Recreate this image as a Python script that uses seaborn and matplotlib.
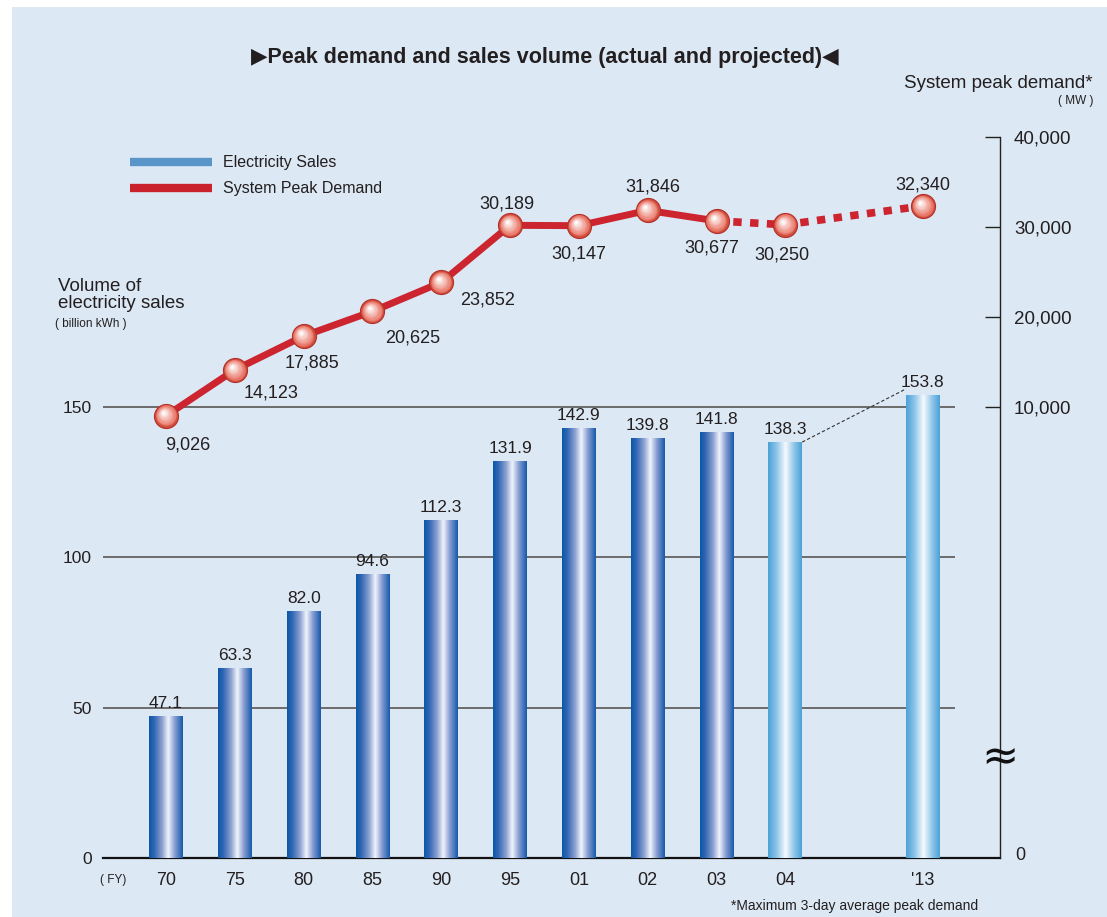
import numpy as np
import pandas as pd
import matplotlib
matplotlib.use("Agg")
import matplotlib.pyplot as plt
import seaborn as sns
from matplotlib.lines import Line2D
from matplotlib.patches import Rectangle
from matplotlib.colors import LinearSegmentedColormap, to_rgb
from matplotlib.transforms import offset_copy

# ---------------- data ----------------
years = ["70", "75", "80", "85", "90", "95", "01", "02", "03", "04", "'13"]
sales = [47.1, 63.3, 82.0, 94.6, 112.3, 131.9, 142.9, 139.8, 141.8, 138.3, 153.8]
peak = [9026, 14123, 17885, 20625, 23852, 30189, 30147, 31846, 30677, 30250, 32340]
status = ["actual"] * 9 + ["projected"] * 2
label_offsets = [(22, -29), (36, -23), (8, -27), (40, -27), (46, -18), (-3, 21),
                 (0, -28), (5, 23), (-5, -27), (-3, -30), (0, 21)]
left_ticks = [0, 50, 100, 150]
right_ticks = [10000, 20000, 30000, 40000]
right_ticklabels = ["10,000", "20,000", "30,000", "40,000"]

order = years[:10] + [" "] + years[10:]
pos = [order.index(y) for y in years]

sns.set_theme(style="white")
FONT = ["Liberation Sans", "DejaVu Sans"]
plt.rcParams["font.family"] = FONT
TXT = "#231f20"

W, H = 1107, 917
fig = plt.figure(figsize=(W / 100, H / 100), dpi=100, facecolor="white")
fig.add_artist(Rectangle((12 / W, 0), 1 - 12 / W, 1 - 7 / H, transform=fig.transFigure,
                         facecolor="#dce8f4", edgecolor="none", zorder=-10))

ax = fig.add_axes([103 / W, 1 - 858 / H, (1000 - 103) / W, (858 - 120) / H])
ax.patch.set_alpha(0)

df = pd.DataFrame({"year": years, "sales": sales, "status": status})
sns.barplot(data=df, x="year", y="sales", order=order, hue="status",
            palette={"actual": "#1f5fae", "projected": "#6fb2e0"},
            width=0.49, dodge=False, legend=False, ax=ax, zorder=3)

xmin, xmax = -0.916, 12.12
ax.set_xlim(xmin, xmax)
ax.set_ylim(0, 245.4)

# gradient fill of the bars
cm_act = LinearSegmentedColormap.from_list("act", [(0, "#0a58a8"), (0.15, "#2f66b3"), (0.38, "#8a9fd0"),
                                                  (0.57, "#f0f4fb"), (0.76, "#889ed2"), (1, "#1558ab")])
cm_proj = LinearSegmentedColormap.from_list("proj", [(0, "#4aa0d6"), (0.25, "#8cc4e8"), (0.52, "#f6fafd"),
                                                    (0.78, "#8cc4e8"), (1, "#4aa0d6")])
grad = np.linspace(0, 1, 256).reshape(1, -1)
for p in ax.patches:
    h = p.get_height()
    if h <= 0 or np.isnan(h):
        continue
    x0 = p.get_x(); w = p.get_width()
    idx = int(round(x0 + w / 2))
    yr = order[idx]
    cmap = cm_proj if status[years.index(yr)] == "projected" else cm_act
    im = ax.imshow(grad, cmap=cmap, aspect="auto", extent=(x0, x0 + w, 0, h),
                   zorder=3.5, interpolation="bilinear")
    im.set_clip_path(p)
    p.set_facecolor("none")
    p.set_edgecolor("none")
ax.set_xlim(xmin, xmax)
ax.set_ylim(0, 245.4)

# bar value labels
for x, v in zip(pos, sales):
    ax.annotate(f"{v:.1f}", (x, v), xytext=(0, 5), textcoords="offset pixels",
                ha="center", va="bottom", fontsize=12.5, color=TXT, zorder=6)

# grid lines
gx_end = (955 - 166) / 68.8
ax.hlines([50, 100, 150], xmin, gx_end, color="#6b6b6b", lw=1.4, zorder=1)
# dashed connector 04 -> '13
w = 0.49
ax.plot([pos[9] + w / 2, pos[10] - w / 2], [sales[9], sales[10] + 2.2], ls=(0, (3, 2)),
        color="#333333", lw=0.8, zorder=4)

for s in ["left", "top", "right"]:
    ax.spines[s].set_visible(False)
ax.spines["bottom"].set_color("#111111")
ax.spines["bottom"].set_linewidth(1.6)
ax.set_yticks(left_ticks)
ax.set_yticklabels([str(t) for t in left_ticks])
ax.tick_params(axis="y", length=0, pad=8, labelsize=12.5, labelcolor=TXT)
ax.tick_params(axis="x", length=0, pad=10, labelsize=13, labelcolor=TXT)
ax.set_xlabel("")
ax.set_ylabel("")

# ---------------- right axis / peak demand ----------------
ax2 = ax.twinx()
ax2.patch.set_alpha(0)
ylo, yhi = -40111, 41889

RED = "#cc2530"
ldf = pd.DataFrame({"x": pos, "peak": peak})
sns.lineplot(data=ldf.iloc[:9], x="x", y="peak", color=RED, lw=5, ax=ax2, zorder=5)
sns.lineplot(data=ldf.iloc[8:], x="x", y="peak", color=RED, lw=5.5, ax=ax2, zorder=5,
             linestyle=(0, (1.1, 1.1)))

# spherical markers
base = np.array(to_rgb("#d2503f"))
white = np.array([1, 1, 1])
sns.scatterplot(data=ldf, x="x", y="peak", s=300, color="#d2503f", edgecolor="#b3302a",
                linewidth=0.8, ax=ax2, zorder=6, legend=False)
n = 12
for k in range(1, n + 1):
    f = k / n
    col = np.clip(base * (1 - f) + white * f + np.array([0.08, 0.10, 0.10]) * (1 - f), 0, 1)
    tr = offset_copy(ax2.transData, fig=fig, x=-3.0 * f, y=3.5 * f, units="dots")
    ax2.scatter(ldf["x"], ldf["peak"], s=300 * (1 - 0.9 * f) ** 2 * 0.85, color=col,
                linewidths=0, transform=tr, zorder=6 + 0.01 * k)

ax2.set_ylim(ylo, yhi)
ax2.set_xlim(xmin, xmax)
ax2.set_xlabel(""); ax2.set_ylabel("")
for s in ["left", "top", "bottom"]:
    ax2.spines[s].set_visible(False)
ax2.spines["right"].set_bounds(ylo, 40000)
ax2.spines["right"].set_color("#222222")
ax2.spines["right"].set_linewidth(1.0)
ax2.set_yticks(right_ticks)
ax2.set_yticklabels(right_ticklabels)
ax2.tick_params(axis="y", direction="in", length=11, width=1.0, color="#222222",
                pad=10, labelsize=13.5, labelcolor=TXT)
ax2.text(1.017, 0.003, "0", transform=ax2.transAxes, fontsize=13, color=TXT,
         ha="left", va="center")
ax2.text(1.0, 0.137, "≈", transform=ax2.transAxes, fontsize=32, color="#111111",
         ha="center", va="center", family=["DejaVu Sans"])

for x, v, (dx, dy) in zip(pos, peak, label_offsets):
    ax2.annotate(f"{v:,}", (x, v), xytext=(dx, dy), textcoords="offset pixels",
                 ha="center", va="center", fontsize=13, color=TXT, zorder=7)

# ---------------- texts ----------------
fig.text(545 / W, 1 - 57 / H, "▶Peak demand and sales volume (actual and projected)◀",
         ha="center", va="center", fontsize=15.5, fontweight="bold", color=TXT)
fig.text(1093 / W, 1 - 83 / H, "System peak demand*", ha="right", va="center",
         fontsize=13.5, color=TXT)
fig.text(1093 / W, 1 - 101 / H, "( MW )", ha="right", va="center", fontsize=8.5, color=TXT)
fig.text(58 / W, 1 - 295 / H, "Volume of\nelectricity sales", ha="left", va="center",
         fontsize=13.5, color=TXT, linespacing=1.05)
fig.text(55 / W, 1 - 324 / H, "( billion kWh )", ha="left", va="center", fontsize=8.5, color=TXT)
fig.text(113 / W, 1 - 880 / H, "( FY)", ha="center", va="center", fontsize=8.5, color=TXT)
fig.text(978 / W, 1 - 906 / H, "*Maximum 3-day average peak demand", ha="right",
         va="center", fontsize=10, color=TXT)

# legend
leg_items = [("Electricity Sales", "#5a95c9", 162), ("System Peak Demand", "#c9222c", 188)]
for lab, col, yy in leg_items:
    fig.add_artist(Line2D([130 / W, 212 / W], [1 - yy / H, 1 - yy / H], color=col, lw=6,
                          transform=fig.transFigure, solid_capstyle="butt"))
    fig.text(223 / W, 1 - yy / H, lab, ha="left", va="center", fontsize=11.5, color=TXT)

fig.savefig("out.png", dpi=100, facecolor=fig.get_facecolor())
